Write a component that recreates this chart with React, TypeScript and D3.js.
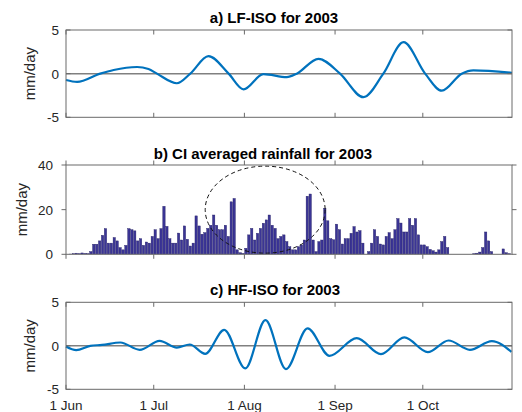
import React from 'react';
import * as d3 from 'd3';

const W = 522;
const H = 412;
const X0 = 66;
const X1 = 512;

const startDate = new Date(2003, 5, 1);
const endDate = new Date(2003, 9, 31, 12);

const tickDates = [
  new Date(2003, 5, 1),
  new Date(2003, 6, 1),
  new Date(2003, 7, 1),
  new Date(2003, 8, 1),
  new Date(2003, 9, 1),
];
const tickLabels = ['1 Jun', '1 Jul', '1 Aug', '1 Sep', '1 Oct'];

// LF-ISO (days since 1 Jun, mm/day)
const lfDays = [0, 3.8, 11.7, 16.3, 24.3, 28.2, 31.1, 37.9, 42.5, 48.7, 55.6, 60.7, 67.5, 75.5, 78.9, 86.3, 93.7, 101.7, 108.5, 115.4, 122.8, 128.5, 135.3, 139.3, 152.5];
const lfValues = [-0.73, -0.95, 0, 0.42, 0.76, 0.53, 0, -1.1, 0, 2.0, 0, -1.8, -0.05, -0.4, 0, 1.7, 0, -2.7, 0, 3.6, 0, -1.95, 0, 0.38, 0.1];

// HF-ISO (days since 1 Jun, mm/day)
const hfDays = [0, 3.5, 8.3, 12.3, 18.6, 25.2, 32.0, 37.9, 42.3, 47.6, 54.1, 61.3, 68.2, 75.2, 82.6, 90.1, 99.4, 107.7, 115.7, 123.7, 130.8, 138.1, 145.6, 152.3];
const hfValues = [-0.08, -0.5, 0, 0.1, 0.38, -0.46, 0.57, -0.2, 0.15, -0.92, 1.84, -2.6, 2.95, -2.68, 2.0, -1.15, 0.88, -0.96, 0.96, -0.73, 0.61, -0.46, 0.54, -0.69];

// daily CI averaged rainfall, 1 Jun .. 31 Oct (mm/day)
const rainfall = [
  0, 0.1, 0.3, 0.5, 0.3, 0.6, 0.4, 0.3, 1.2, 4.5,
  4.5, 6, 8.5, 11.5, 5, 5, 7.5, 6, 3, 2,
  4, 11.5, 11, 10.5, 6, 7, 4, 5.5, 5, 8,
  11, 7, 11.5, 21.5, 12.5, 7, 5, 5, 9.5, 6.4,
  12.7, 6.7, 3.7, 5, 17.2, 12.7, 9, 9.7, 11.6, 13,
  17.6, 13, 11, 11, 13, 8, 23.5, 25, 2, 0.7,
  0.4, 2.7, 8.7, 11.6, 6.4, 9.4, 11.6, 13.9, 15.4, 17.6,
  13, 11.6, 7, 8, 8.7, 5.7, 3.4, 2, 2, 3.4,
  4.2, 6.4, 26, 27, 6.4, 1.2, 5.7, 6.4, 20.6, 15,
  7, 6.5, 13.5, 11, 4.6, 7, 7, 9.4, 12.4, 10,
  10.6, 5, 0, 1.2, 5, 11, 8, 4.6, 4.2, 8,
  9.7, 7, 11, 16, 14, 10, 10, 16, 13, 16,
  8.7, 4.2, 4.2, 3.4, 2.2, 1.6, 1, 2, 5.7, 8,
  3, 0, 0, 0, 0, 0, 0, 0, 0, 0.3,
  0.5, 1, 3, 10, 6, 1.2, 0, 0, 0, 2.4,
  0.7, 0.3, 0,
];

// circled region in panel b (day, mm/day)
const ellipseCenter = [68.1, 20];
const ellipseRadius = [20.5, 19.5];

const dayDate = (d: number) => new Date(startDate.getTime() + d * 864e5);

const x = d3.scaleTime().domain([startDate, endDate]).range([X0, X1]);

const panels = {
  a: { top: 30, bottom: 117.3 },
  b: { top: 165, bottom: 254.3 },
  c: { top: 302.3, bottom: 389.3 },
};

const yA = d3.scaleLinear().domain([-5, 5]).range([panels.a.bottom, panels.a.top]);
const yB = d3.scaleLinear().domain([0, 40]).range([panels.b.bottom, panels.b.top]);
const yC = d3.scaleLinear().domain([-5, 5]).range([panels.c.bottom, panels.c.top]);

const font = '"Liberation Sans", Arial, Helvetica, sans-serif';
const axisColor = '#6a6a6a';
const textColor = '#262626';
const lineColor = '#0072BD';

function Frame({ y, ticks, dir, labelX, tickLabelX, showDates }: any) {
  const [top, bottom] = [y.range()[1], y.range()[0]];
  const tl = 4.5 * dir; // dir 1 = inward, -1 = outward
  return (
    <g>
      <rect x={X0} y={top} width={X1 - X0} height={bottom - top} fill="none" stroke={axisColor} strokeWidth={1} />
      {tickDates.map((d, i) => (
        <g key={i}>
          <line x1={x(d)} x2={x(d)} y1={top} y2={top + tl} stroke={axisColor} />
          <line x1={x(d)} x2={x(d)} y1={bottom} y2={bottom - tl} stroke={axisColor} />
        </g>
      ))}
      {ticks.map((t: number) => (
        <g key={t}>
          <line x1={X0} x2={X0 + tl} y1={y(t)} y2={y(t)} stroke={axisColor} />
          <line x1={X1} x2={X1 - tl} y1={y(t)} y2={y(t)} stroke={axisColor} />
          <text x={tickLabelX} y={y(t)} dy="0.36em" textAnchor="end" fontSize={13.5} fill={textColor}>
            {t}
          </text>
        </g>
      ))}
      <text
        transform={`translate(${labelX},${(top + bottom) / 2}) rotate(-90)`}
        textAnchor="middle"
        fontSize={15}
        fill={textColor}
      >
        mm/day
      </text>
      {showDates &&
        tickDates.map((d, i) => (
          <text key={i} x={x(d)} y={409.5} textAnchor="middle" fontSize={13.5} fill={textColor}>
            {tickLabels[i]}
          </text>
        ))}
    </g>
  );
}

export default function App() {
  const lfLine = d3
    .line<number>()
    .x((_, i) => x(dayDate(lfDays[i])))
    .y((v) => yA(v))
    .curve(d3.curveMonotoneX);
  const hfLine = d3
    .line<number>()
    .x((_, i) => x(dayDate(hfDays[i])))
    .y((v) => yC(v))
    .curve(d3.curveMonotoneX);

  const step = x(dayDate(1)) - x(dayDate(0));
  const barW = step * 0.8;

  const ecx = x(dayDate(ellipseCenter[0]));
  const erx = x(dayDate(ellipseCenter[0] + ellipseRadius[0])) - ecx;
  const ecy = yB(ellipseCenter[1]);
  const ery = yB(ellipseCenter[1] - ellipseRadius[1]) - ecy;

  return (
    <svg width={W} height={H} style={{ position: 'absolute', left: 0, top: 0, background: '#fff' }} fontFamily={font}>
      <defs>
        <clipPath id="clipB">
          <rect x={X0} y={panels.b.top} width={X1 - X0} height={panels.b.bottom - panels.b.top} />
        </clipPath>
      </defs>

      {/* a) LF-ISO */}
      <text x={274} y={23} textAnchor="middle" fontSize={15} fontWeight="bold" fill="#000">
        a) LF-ISO for 2003
      </text>
      <line x1={X0} x2={X1} y1={yA(0)} y2={yA(0)} stroke="#808080" strokeWidth={1.5} />
      <path d={lfLine(lfValues) || ''} fill="none" stroke={lineColor} strokeWidth={2.2} />
      <Frame y={yA} ticks={[-5, 0, 5]} dir={1} labelX={35} tickLabelX={59} />

      {/* b) rainfall */}
      <text x={263} y={159} textAnchor="middle" fontSize={15} fontWeight="bold" fill="#000">
        b) CI averaged rainfall for 2003
      </text>
      <g clipPath="url(#clipB)">
        {rainfall.map((v, i) => (
          <rect
            key={i}
            x={x(dayDate(i + 0.5)) - barW / 2}
            y={yB(v)}
            width={barW}
            height={yB(0) - yB(v)}
            fill="#3b3596"
            stroke="#221c62"
            strokeWidth={0.4}
          />
        ))}
      </g>
      <ellipse cx={ecx} cy={ecy} rx={erx} ry={ery} fill="none" stroke="#111" strokeWidth={1} strokeDasharray="4,3" />
      <Frame y={yB} ticks={[0, 20, 40]} dir={-1} labelX={27} tickLabelX={53} />

      {/* c) HF-ISO */}
      <text x={275} y={295} textAnchor="middle" fontSize={15} fontWeight="bold" fill="#000">
        c) HF-ISO for 2003
      </text>
      <line x1={X0} x2={X1} y1={yC(0)} y2={yC(0)} stroke="#808080" strokeWidth={1.5} />
      <path d={hfLine(hfValues) || ''} fill="none" stroke={lineColor} strokeWidth={2.2} />
      <Frame y={yC} ticks={[-5, 0, 5]} dir={1} labelX={35} tickLabelX={59} showDates />
    </svg>
  );
}
